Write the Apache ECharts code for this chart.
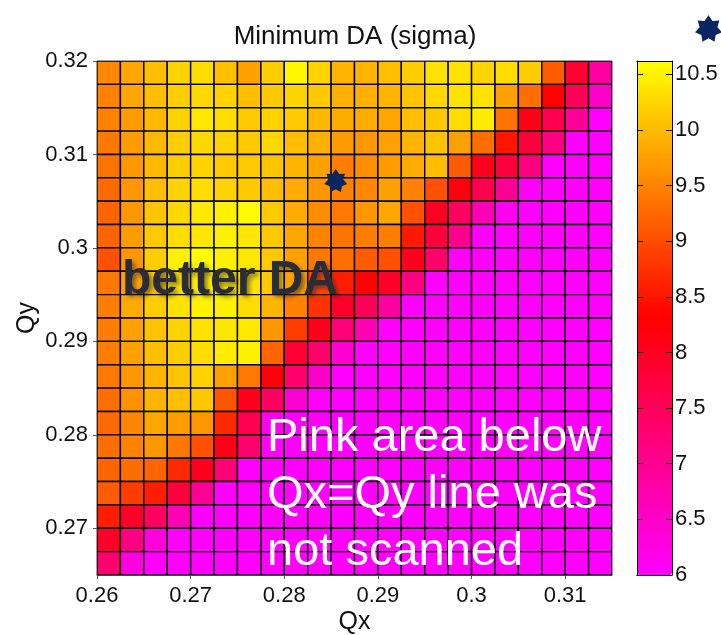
<!DOCTYPE html>
<html>
<head>
<meta charset="utf-8">
<script src="https://cdn.jsdelivr.net/npm/echarts@6/dist/echarts.min.js"></script>
<style>
  html, body { margin: 0; padding: 0; background: #ffffff; }
  #chart { width: 721px; height: 635px; }
</style>
</head>
<body>
<div id="chart"></div>
<script>
// Tune scan grid: cell centres in Qx (left to right) and Qy (bottom to top)
const qx = [0.26125, 0.26375, 0.26625, 0.26875, 0.27125, 0.27375, 0.27625, 0.27875,
            0.28125, 0.28375, 0.28625, 0.28875, 0.29125, 0.29375, 0.29625, 0.29875,
            0.30125, 0.30375, 0.30625, 0.30875, 0.31125, 0.31375];
const qy = [0.26625, 0.26875, 0.27125, 0.27375, 0.27625, 0.27875, 0.28125, 0.28375,
            0.28625, 0.28875, 0.29125, 0.29375, 0.29625, 0.29875, 0.30125, 0.30375,
            0.30625, 0.30875, 0.31125, 0.31375, 0.31625, 0.31875];

// Minimum DA in sigma; each row is one Qy value, listed from the highest Qy down
const daRows = [
  [9.54, 9.81, 10.04, 10.22, 10.31, 10.04, 9.77, 10.18, 10.54, 10.22, 9.95, 9.95, 10.04, 10.18, 10.36, 10.36, 10.22, 10.31, 10.18, 9.13, 7.86, 6.86],
  [9.50, 9.81, 10.04, 10.18, 10.27, 10.22, 10.04, 10.13, 10.22, 10.13, 9.90, 9.90, 9.95, 10.09, 10.27, 10.36, 10.36, 9.77, 9.31, 8.32, 7.50, 6.50],
  [9.50, 9.72, 9.99, 10.22, 10.40, 10.31, 10.13, 10.22, 10.13, 9.99, 9.86, 9.86, 9.81, 10.04, 10.13, 10.31, 10.45, 9.36, 8.13, 7.59, 6.95, 6.00],
  [9.40, 9.72, 9.99, 10.18, 10.27, 10.22, 10.13, 10.27, 10.04, 9.90, 9.72, 9.68, 9.77, 9.95, 10.09, 9.77, 9.31, 8.50, 7.77, 7.13, 6.00, 6.00],
  [9.36, 9.68, 9.99, 10.18, 10.22, 10.13, 10.13, 10.09, 9.95, 9.77, 9.45, 9.59, 9.72, 9.86, 10.04, 9.13, 8.04, 7.77, 7.13, 6.00, 6.00, 6.00],
  [9.27, 9.68, 10.04, 10.22, 10.31, 10.22, 10.13, 10.04, 9.86, 9.68, 9.50, 9.54, 9.77, 9.50, 9.04, 8.18, 7.59, 6.95, 6.00, 6.00, 6.00, 6.00],
  [9.22, 9.68, 10.09, 10.27, 10.40, 10.49, 10.58, 10.13, 9.86, 9.59, 9.40, 9.68, 9.81, 9.04, 8.04, 7.41, 6.68, 6.14, 6.00, 6.00, 6.00, 6.00],
  [9.22, 9.72, 10.13, 10.31, 10.40, 10.49, 10.40, 10.13, 9.81, 9.50, 9.36, 9.45, 9.45, 8.54, 7.77, 7.04, 6.00, 6.00, 6.00, 6.00, 6.00, 6.00],
  [9.04, 9.68, 10.18, 10.49, 10.58, 10.49, 10.40, 10.13, 9.77, 9.40, 9.31, 9.13, 9.04, 8.04, 7.32, 6.00, 6.00, 6.00, 6.00, 6.00, 6.00, 6.00],
  [9.40, 9.77, 10.13, 10.40, 10.49, 10.45, 10.36, 10.13, 9.77, 8.90, 8.59, 8.32, 7.95, 7.13, 6.00, 6.00, 6.00, 6.00, 6.00, 6.00, 6.00, 6.00],
  [9.45, 9.86, 10.18, 10.36, 10.49, 10.49, 10.31, 9.95, 9.50, 8.77, 7.95, 7.50, 6.86, 6.00, 6.00, 6.00, 6.00, 6.00, 6.00, 6.00, 6.00, 6.00],
  [9.45, 9.77, 10.09, 10.22, 10.36, 10.40, 10.40, 9.68, 8.86, 8.04, 7.23, 6.68, 6.00, 6.00, 6.00, 6.00, 6.00, 6.00, 6.00, 6.00, 6.00, 6.00],
  [9.45, 9.77, 10.04, 10.18, 10.31, 10.45, 10.49, 9.22, 7.86, 7.32, 6.41, 6.00, 6.00, 6.00, 6.00, 6.00, 6.00, 6.00, 6.00, 6.00, 6.00, 6.00],
  [9.40, 9.68, 9.95, 10.09, 10.22, 9.77, 9.40, 8.22, 7.32, 6.50, 6.00, 6.00, 6.00, 6.00, 6.00, 6.00, 6.00, 6.00, 6.00, 6.00, 6.00, 6.00],
  [9.31, 9.63, 9.95, 10.04, 10.13, 9.09, 8.04, 7.41, 6.41, 6.00, 6.00, 6.00, 6.00, 6.00, 6.00, 6.00, 6.00, 6.00, 6.00, 6.00, 6.00, 6.00],
  [9.27, 9.54, 9.81, 9.72, 9.68, 8.68, 7.59, 6.14, 6.00, 6.00, 6.00, 6.00, 6.00, 6.00, 6.00, 6.00, 6.00, 6.00, 6.00, 6.00, 6.00, 6.00],
  [9.31, 9.50, 9.68, 9.40, 9.04, 8.13, 7.32, 6.00, 6.00, 6.00, 6.00, 6.00, 6.00, 6.00, 6.00, 6.00, 6.00, 6.00, 6.00, 6.00, 6.00, 6.00],
  [9.22, 9.31, 9.22, 8.68, 8.04, 7.23, 6.00, 6.00, 6.00, 6.00, 6.00, 6.00, 6.00, 6.00, 6.00, 6.00, 6.00, 6.00, 6.00, 6.00, 6.00, 6.00],
  [9.13, 8.86, 8.59, 7.77, 6.95, 6.00, 6.00, 6.00, 6.00, 6.00, 6.00, 6.00, 6.00, 6.00, 6.00, 6.00, 6.00, 6.00, 6.00, 6.00, 6.00, 6.00],
  [8.59, 7.95, 7.41, 6.68, 6.00, 6.00, 6.00, 6.00, 6.00, 6.00, 6.00, 6.00, 6.00, 6.00, 6.00, 6.00, 6.00, 6.00, 6.00, 6.00, 6.00, 6.00],
  [7.95, 7.13, 6.32, 6.00, 6.00, 6.00, 6.00, 6.00, 6.00, 6.00, 6.00, 6.00, 6.00, 6.00, 6.00, 6.00, 6.00, 6.00, 6.00, 6.00, 6.00, 6.00],
  [7.30, 6.30, 6.00, 6.00, 6.00, 6.00, 6.00, 6.00, 6.00, 6.00, 6.00, 6.00, 6.00, 6.00, 6.00, 6.00, 6.00, 6.00, 6.00, 6.00, 6.00, 6.00]
];

// Chosen working point
const workingPoint = [[0.2855, 0.3072]];

// Axis ticks
const xTicks = [0.26, 0.27, 0.28, 0.29, 0.3, 0.31];
const yTicks = [0.27, 0.28, 0.29, 0.3, 0.31, 0.32];
const cbTicks = [6, 6.5, 7, 7.5, 8, 8.5, 9, 9.5, 10, 10.5];

const FONT = '"Liberation Sans", Arial, Helvetica, sans-serif';
const DA_MIN = 6, DA_MAX = 10.62;

// Flatten the grid into [qx, qy, da] triples
const cells = [];
daRows.forEach((row, r) => {
  const y = qy[qy.length - 1 - r];
  row.forEach((v, c) => cells.push([qx[c], y, v]));
});
const dq = qx[1] - qx[0];

// Seven-pointed star outline used as a marker
function starPath(points, inner) {
  const pts = [];
  for (let i = 0; i < points * 2; i++) {
    const a = -Math.PI / 2 + i * Math.PI / points;
    const r = i % 2 === 0 ? 1 : inner;
    pts.push((50 + 50 * r * Math.cos(a)).toFixed(2) + ' ' + (50 + 50 * r * Math.sin(a)).toFixed(2));
  }
  return 'path://M' + pts.join(' L') + ' Z';
}
const STAR = starPath(7, 0.66);
const NAVY = '#0b2462';

const fmt = v => String(+(+v).toFixed(3));

const chart = echarts.init(document.getElementById('chart'), null, { renderer: 'canvas' });

chart.setOption({
  animation: false,
  backgroundColor: '#ffffff',
  title: {
    text: 'Minimum DA (sigma)',
    left: 350, top: 19, textAlign: 'center',
    textStyle: { fontFamily: FONT, fontSize: 26, fontWeight: 'normal', color: '#111' }
  },
  legend: {
    data: [{ name: 'Working point', icon: STAR, itemStyle: { color: NAVY, opacity: 1 } }],
    left: 695, top: 15, padding: 0,
    itemWidth: 27, itemHeight: 27,
    formatter: () => '',
    selectedMode: false
  },
  grid: [
    { left: 97, top: 61, width: 515, height: 514, outerBoundsMode: 'none', containLabel: false,
      show: true, borderColor: '#444', borderWidth: 1, backgroundColor: 'transparent' },
    { left: 637, top: 61, width: 35, height: 514, outerBoundsMode: 'none', containLabel: false, show: false }
  ],
  xAxis: [
    {
      gridIndex: 0, type: 'value', min: 0.26, max: 0.315,
      name: 'Qx', nameLocation: 'middle', nameGap: 35, nameMoveOverlap: false,
      nameTextStyle: { fontFamily: FONT, fontSize: 25, color: '#111' },
      axisLine: { show: true, lineStyle: { color: '#444', width: 1 } },
      axisTick: { show: true, inside: false, length: 4, lineStyle: { color: '#555' }, customValues: xTicks },
      axisLabel: { fontFamily: FONT, fontSize: 22, color: '#111', margin: 10, formatter: fmt, customValues: xTicks },
      splitLine: { show: false }
    },
    {
      gridIndex: 1, type: 'value', min: 0, max: 1, position: 'bottom', z: 10,
      axisLine: { show: true, onZero: false, lineStyle: { color: '#000', width: 1 } },
      axisTick: { show: false }, axisLabel: { show: false }, splitLine: { show: false }
    },
    {
      gridIndex: 1, type: 'value', min: 0, max: 1, position: 'top', z: 10,
      axisLine: { show: true, onZero: false, lineStyle: { color: '#000', width: 1 } },
      axisTick: { show: false }, axisLabel: { show: false }, splitLine: { show: false }
    }
  ],
  yAxis: [
    {
      gridIndex: 0, type: 'value', min: 0.265, max: 0.32,
      name: 'Qy', nameLocation: 'middle', nameGap: 57, nameMoveOverlap: false,
      nameTextStyle: { fontFamily: FONT, fontSize: 25, color: '#111' },
      axisLine: { show: true, lineStyle: { color: '#444', width: 1 } },
      axisTick: { show: true, inside: false, length: 4, lineStyle: { color: '#555' }, customValues: yTicks },
      axisLabel: { fontFamily: FONT, fontSize: 22, color: '#111', margin: 9, padding: [5, 0, 0, 0],
                   formatter: fmt, customValues: yTicks },
      splitLine: { show: false }
    },
    {
      gridIndex: 1, type: 'value', min: DA_MIN, max: DA_MAX, position: 'right', z: 10,
      axisLine: { show: true, onZero: false, lineStyle: { color: '#000', width: 1 } },
      axisTick: { show: true, inside: true, length: 6, lineStyle: { color: '#000' }, customValues: cbTicks },
      axisLabel: { fontFamily: FONT, fontSize: 22, color: '#111', margin: 3, padding: [3, 0, 0, 0],
                   formatter: fmt, customValues: cbTicks },
      splitLine: { show: false }
    },
    {
      gridIndex: 1, type: 'value', min: DA_MIN, max: DA_MAX, position: 'left', z: 10,
      axisLine: { show: true, onZero: false, lineStyle: { color: '#000', width: 1 } },
      axisTick: { show: true, inside: true, length: 6, lineStyle: { color: '#000' }, customValues: cbTicks },
      axisLabel: { show: false },
      splitLine: { show: false }
    }
  ],
  visualMap: {
    type: 'continuous',
    min: DA_MIN, max: DA_MAX,
    dimension: 2, seriesIndex: 0,
    orient: 'vertical',
    left: 637, top: 61, padding: 0,
    itemWidth: 35, itemHeight: 514,
    calculable: false, hoverLink: false,
    text: null,
    inRange: { color: ['#ff00ff', '#ff0000', '#ffff00'] }
  },
  series: [
    {
      name: 'Minimum DA',
      type: 'custom',
      xAxisIndex: 0, yAxisIndex: 0,
      encode: { x: 0, y: 1 },
      data: cells,
      clip: true,
      renderItem: (params, api) => {
        const x = api.value(0), y = api.value(1);
        const p1 = api.coord([x - dq / 2, y + dq / 2]);
        const p2 = api.coord([x + dq / 2, y - dq / 2]);
        return {
          type: 'rect',
          shape: { x: p1[0], y: p1[1], width: p2[0] - p1[0], height: p2[1] - p1[1] },
          style: { fill: api.visual('color'), stroke: '#000', lineWidth: 1.4 }
        };
      }
    },
    {
      name: 'Working point',
      type: 'scatter',
      xAxisIndex: 0, yAxisIndex: 0,
      data: workingPoint,
      symbol: STAR,
      symbolSize: 23,
      itemStyle: { color: NAVY, opacity: 1 },
      z: 5
    }
  ],
  graphic: [
    {
      type: 'text', left: 122, top: 257, z: 20,
      style: {
        text: 'better DA',
        font: 'bold 48px ' + FONT,
        fill: '#2b2c3a',
        textShadowColor: 'rgba(40,40,40,0.55)',
        textShadowBlur: 4, textShadowOffsetX: 3, textShadowOffsetY: 3
      }
    },
    {
      type: 'text', left: 267, top: 410, z: 20,
      style: {
        text: 'Pink area below\nQx=Qy line was\nnot scanned',
        font: '47px ' + FONT,
        lineHeight: 57,
        fill: '#ffffff'
      }
    }
  ]
});
</script>
</body>
</html>
